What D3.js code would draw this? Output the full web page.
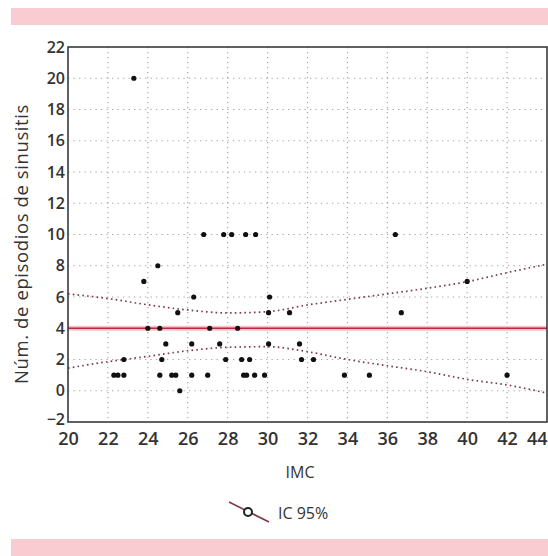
<!DOCTYPE html>
<html><head><meta charset="utf-8">
<script src="https://cdn.jsdelivr.net/npm/d3@7"></script>
<style>body{margin:0;background:#fff}svg{display:block}</style>
</head><body>
<svg id="c" width="548" height="556"></svg>
<script>
const xTicks = [20,22,24,26,28,30,32,34,36,38,40,42,44];
const yTicks = [-2,0,2,4,6,8,10,12,14,16,18,20,22];
const imc = [23.3, 26.8,27.8,28.2,28.9,29.4,36.4, 24.5, 23.8,40, 26.3,30.1, 25.5,30.05,31.1,36.7,
  24,24.6,27.1,28.5, 24.9,26.2,27.6,30.05,31.6, 22.8,24.7,27.9,28.7,29.1,31.7,32.3,
  22.3,22.5,22.8,24.6,25.2,25.4,26.2,27.0,28.8,28.95,29.35,29.85,33.85,35.1,42, 25.6];
const episodios = [20, 10,10,10,10,10,10, 8, 7,7, 6,6, 5,5,5,5,
  4,4,4,4, 3,3,3,3,3, 2,2,2,2,2,2,2,
  1,1,1,1,1,1,1,1,1,1,1,1,1,1,1, 0];
const meanValue = 4;
const ciX = [20,22,24,26,28,30,32,34,36,38,40,42,44];
const ciUpper = [6.2,5.9,5.5,5.17,4.98,5.06,5.49,5.85,6.2,6.56,6.98,7.56,8.1];
const ciLower = [1.45,1.86,2.2,2.56,2.78,2.82,2.5,2.0,1.6,1.22,0.73,0.37,-0.15];
const xTitle = "IMC";
const yTitle = "Núm. de episodios de sinusitis";
const legendLabel = "IC 95%";

const svg = d3.select("#c");
const W = 548;
// pink bands
svg.append("rect").attr("x",11).attr("y",8).attr("width",W-11).attr("height",17).attr("fill","#f8ccd0");
svg.append("rect").attr("x",11).attr("y",539).attr("width",W-11).attr("height",17).attr("fill","#f8ccd0");

const x = d3.scaleLinear().domain([20,44]).range([68,547]);
const y = d3.scaleLinear().domain([-2,22]).range([422,47]);

const font = "'Open Sans', sans-serif";
// gridlines
const g = svg.append("g");
g.selectAll("line.vg").data(xTicks.slice(1,-1)).join("line")
  .attr("x1",d=>x(d)).attr("x2",d=>x(d)).attr("y1",y(22)).attr("y2",y(-2))
  .attr("stroke","#a8a8a8").attr("stroke-width",1.2).attr("stroke-dasharray","1.3,3.7");
g.selectAll("line.hg").data(yTicks.slice(1,-1)).join("line")
  .attr("x1",x(20)).attr("x2",x(44)).attr("y1",d=>y(d)).attr("y2",d=>y(d))
  .attr("stroke","#a8a8a8").attr("stroke-width",1.2).attr("stroke-dasharray","1.3,4.2");

// mean line
svg.append("line").attr("x1",x(20)).attr("x2",x(44)).attr("y1",y(meanValue)).attr("y2",y(meanValue))
  .attr("stroke","#f2b6c0").attr("stroke-width",5).attr("opacity",0.8);
svg.append("line").attr("x1",x(20)).attr("x2",x(44)).attr("y1",y(meanValue)).attr("y2",y(meanValue))
  .attr("stroke","#b8283f").attr("stroke-width",1.6);

// CI curves
const line = d3.line().x(d=>x(d[0])).y(d=>y(d[1])).curve(d3.curveMonotoneX);
[ciUpper, ciLower].forEach(arr=>{
  svg.append("path").attr("d", line(ciX.map((v,i)=>[v,arr[i]])))
    .attr("fill","none").attr("stroke","#7d3a48").attr("stroke-width",1.7).attr("stroke-dasharray","1.6,3.2");
});

// points
svg.selectAll("circle.p").data(imc.map((v,i)=>[v,episodios[i]])).join("circle")
  .attr("cx",d=>x(d[0])).attr("cy",d=>y(d[1])).attr("r",2.6).attr("fill","#111");

// frame
svg.append("rect").attr("x",x(20)).attr("y",y(22)).attr("width",x(44)-x(20)).attr("height",y(-2)-y(22))
  .attr("fill","none").attr("stroke","#3a3a3a").attr("stroke-width",1.6);

// axes labels
const xa = svg.append("g").attr("transform",`translate(0,${y(-2)})`)
  .call(d3.axisBottom(x).tickValues(xTicks).tickSize(0).tickPadding(10).tickFormat(d3.format("d")));
xa.select(".domain").remove();
xa.selectAll("text").attr("font-family",font).attr("font-size",18).attr("font-weight",600).attr("fill","#333")
  .filter(d=>d===44).attr("text-anchor","end").attr("dx",0);
const ya = svg.append("g").attr("transform",`translate(${x(20)},0)`)
  .call(d3.axisLeft(y).tickValues(yTicks).tickSize(0).tickPadding(3).tickFormat(d3.format("d")));
ya.select(".domain").remove();
ya.selectAll("text").attr("font-family",font).attr("font-size",16).attr("font-weight",600).attr("fill","#333")
  .filter(d=>d===-2).attr("dy","0.15em");

svg.append("text").attr("x",300).attr("y",478).attr("text-anchor","middle")
  .attr("font-family",font).attr("font-size",16).attr("fill","#333").text(xTitle);
svg.append("text").attr("transform","translate(28,244) rotate(-90)").attr("text-anchor","middle")
  .attr("font-family",font).attr("font-size",18.5).attr("letter-spacing",0.6).attr("fill","#333").text(yTitle);

// legend
svg.append("line").attr("x1",229).attr("y1",502).attr("x2",269).attr("y2",522)
  .attr("stroke","#7d3a48").attr("stroke-width",1.6);
svg.append("circle").attr("cx",248).attr("cy",512).attr("r",4).attr("fill","#fff").attr("stroke","#222").attr("stroke-width",2);
svg.append("text").attr("x",278).attr("y",519).attr("font-family",font).attr("font-size",16).attr("fill","#333").text(legendLabel);
</script>
</body></html>
